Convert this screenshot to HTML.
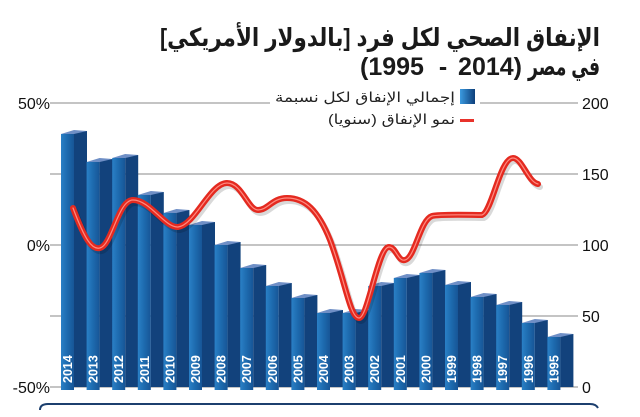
<!DOCTYPE html>
<html><head><meta charset="utf-8"><style>
html,body{margin:0;padding:0;background:#fff;width:640px;height:417px;overflow:hidden}
svg{display:block}
</style></head><body>
<svg width="640" height="417" viewBox="0 0 640 417" xmlns="http://www.w3.org/2000/svg" xmlns:xlink="http://www.w3.org/1999/xlink" font-family="'Liberation Sans','DejaVu Sans',sans-serif">
<defs>
<linearGradient id="fr" x1="0" x2="1" y1="0" y2="0"><stop offset="0" stop-color="#2a80c6"/><stop offset="0.5" stop-color="#1d6aae"/><stop offset="1" stop-color="#175596"/></linearGradient>
<linearGradient id="lg" x1="0" x2="1"><stop offset="0" stop-color="#3b9ae0"/><stop offset="1" stop-color="#0d3f7a"/></linearGradient>
<polygon id="tp" points="0,0 13,0 26,-3 13,-4" fill="#6f8fc6"/>
</defs>
<text x="600" y="46" text-anchor="end" font-size="25" font-weight="bold" fill="#1a1a1a" textLength="440" lengthAdjust="spacingAndGlyphs">الإنفاق  الصحي لكل فرد [بالدولار الأمريكي]</text>
<text x="600" y="75" text-anchor="end" font-size="25" font-weight="bold" fill="#1a1a1a" textLength="72" lengthAdjust="spacingAndGlyphs">في مصر</text>
<g font-size="25" font-weight="bold" fill="#1a1a1a">
<text x="360" y="75">(1995</text>
<text x="443" y="75" text-anchor="middle">-</text>
<text x="522" y="75" text-anchor="end">2014)</text>
</g>
<g stroke="#888" stroke-width="1">
<line x1="50" y1="103" x2="578" y2="103"/><line x1="50" y1="174" x2="578" y2="174"/><line x1="50" y1="245" x2="578" y2="245"/><line x1="50" y1="316" x2="578" y2="316"/><line x1="50" y1="387" x2="578" y2="387"/>
</g>
<rect x="270" y="95" width="210" height="32" fill="#fff"/>
<rect x="460" y="89" width="15" height="15" fill="url(#lg)"/>
<text x="455" y="102" text-anchor="end" font-size="14" fill="#222" textLength="180" lengthAdjust="spacingAndGlyphs">إجمالي الإنفاق لكل نسبمة</text>
<rect x="460" y="119" width="14" height="3" fill="#e8322b"/>
<text x="455" y="124" text-anchor="end" font-size="14" fill="#222" textLength="127" lengthAdjust="spacingAndGlyphs">نمو الإنفاق (سنويا)</text>
<g font-size="16" fill="#111">
<text x="50" y="109" text-anchor="end">50%</text><text x="50" y="251" text-anchor="end">0%</text><text x="50" y="393" text-anchor="end">-50%</text>
<text x="582" y="109">200</text><text x="582" y="180">150</text><text x="582" y="251">100</text><text x="582" y="322">50</text><text x="582" y="393">0</text>
</g>
<g>
<g transform="translate(61,134)"><rect width="13" height="256" fill="url(#fr)"/><rect x="13" y="-3" width="13" height="256" fill="#12427c"/><use xlink:href="#tp"/></g>
<g transform="translate(86.6,162)"><rect width="13" height="228" fill="url(#fr)"/><rect x="13" y="-3" width="13" height="228" fill="#12427c"/><use xlink:href="#tp"/></g>
<g transform="translate(112.2,158)"><rect width="13" height="232" fill="url(#fr)"/><rect x="13" y="-3" width="13" height="232" fill="#12427c"/><use xlink:href="#tp"/></g>
<g transform="translate(137.8,195)"><rect width="13" height="195" fill="url(#fr)"/><rect x="13" y="-3" width="13" height="195" fill="#12427c"/><use xlink:href="#tp"/></g>
<g transform="translate(163.4,213)"><rect width="13" height="177" fill="url(#fr)"/><rect x="13" y="-3" width="13" height="177" fill="#12427c"/><use xlink:href="#tp"/></g>
<g transform="translate(189,225)"><rect width="13" height="165" fill="url(#fr)"/><rect x="13" y="-3" width="13" height="165" fill="#12427c"/><use xlink:href="#tp"/></g>
<g transform="translate(214.6,245)"><rect width="13" height="145" fill="url(#fr)"/><rect x="13" y="-3" width="13" height="145" fill="#12427c"/><use xlink:href="#tp"/></g>
<g transform="translate(240.2,268)"><rect width="13" height="122" fill="url(#fr)"/><rect x="13" y="-3" width="13" height="122" fill="#12427c"/><use xlink:href="#tp"/></g>
<g transform="translate(265.8,286)"><rect width="13" height="104" fill="url(#fr)"/><rect x="13" y="-3" width="13" height="104" fill="#12427c"/><use xlink:href="#tp"/></g>
<g transform="translate(291.4,298)"><rect width="13" height="92" fill="url(#fr)"/><rect x="13" y="-3" width="13" height="92" fill="#12427c"/><use xlink:href="#tp"/></g>
<g transform="translate(317,313)"><rect width="13" height="77" fill="url(#fr)"/><rect x="13" y="-3" width="13" height="77" fill="#12427c"/><use xlink:href="#tp"/></g>
<g transform="translate(342.6,313)"><rect width="13" height="77" fill="url(#fr)"/><rect x="13" y="-3" width="13" height="77" fill="#12427c"/><use xlink:href="#tp"/></g>
<g transform="translate(368.2,286)"><rect width="13" height="104" fill="url(#fr)"/><rect x="13" y="-3" width="13" height="104" fill="#12427c"/><use xlink:href="#tp"/></g>
<g transform="translate(393.8,278)"><rect width="13" height="112" fill="url(#fr)"/><rect x="13" y="-3" width="13" height="112" fill="#12427c"/><use xlink:href="#tp"/></g>
<g transform="translate(419.4,273)"><rect width="13" height="117" fill="url(#fr)"/><rect x="13" y="-3" width="13" height="117" fill="#12427c"/><use xlink:href="#tp"/></g>
<g transform="translate(445,285)"><rect width="13" height="105" fill="url(#fr)"/><rect x="13" y="-3" width="13" height="105" fill="#12427c"/><use xlink:href="#tp"/></g>
<g transform="translate(470.6,297)"><rect width="13" height="93" fill="url(#fr)"/><rect x="13" y="-3" width="13" height="93" fill="#12427c"/><use xlink:href="#tp"/></g>
<g transform="translate(496.2,305)"><rect width="13" height="85" fill="url(#fr)"/><rect x="13" y="-3" width="13" height="85" fill="#12427c"/><use xlink:href="#tp"/></g>
<g transform="translate(521.8,323)"><rect width="13" height="67" fill="url(#fr)"/><rect x="13" y="-3" width="13" height="67" fill="#12427c"/><use xlink:href="#tp"/></g>
<g transform="translate(547.4,337)"><rect width="13" height="53" fill="url(#fr)"/><rect x="13" y="-3" width="13" height="53" fill="#12427c"/><use xlink:href="#tp"/></g>
</g>
<g font-size="12.5" font-weight="bold" fill="#fff">
<text transform="translate(72,383) rotate(-90)">2014</text>
<text transform="translate(97.6,383) rotate(-90)">2013</text>
<text transform="translate(123.2,383) rotate(-90)">2012</text>
<text transform="translate(148.8,383) rotate(-90)">2011</text>
<text transform="translate(174.4,383) rotate(-90)">2010</text>
<text transform="translate(200,383) rotate(-90)">2009</text>
<text transform="translate(225.6,383) rotate(-90)">2008</text>
<text transform="translate(251.2,383) rotate(-90)">2007</text>
<text transform="translate(276.8,383) rotate(-90)">2006</text>
<text transform="translate(302.4,383) rotate(-90)">2005</text>
<text transform="translate(328,383) rotate(-90)">2004</text>
<text transform="translate(353.6,383) rotate(-90)">2003</text>
<text transform="translate(379.2,383) rotate(-90)">2002</text>
<text transform="translate(404.8,383) rotate(-90)">2001</text>
<text transform="translate(430.4,383) rotate(-90)">2000</text>
<text transform="translate(456,383) rotate(-90)">1999</text>
<text transform="translate(481.6,383) rotate(-90)">1998</text>
<text transform="translate(507.2,383) rotate(-90)">1997</text>
<text transform="translate(532.8,383) rotate(-90)">1996</text>
<text transform="translate(558.4,383) rotate(-90)">1995</text>
</g>
<g fill="none" stroke-linecap="round">
<path transform="translate(2,3)" stroke="#000" stroke-opacity="0.15" stroke-width="6" d="M73 208 C85 240 92 250 100 248 C112 245 118 200 133 200 C150 200 165 228 178 227 C195 225 210 183 227 183 C242 183 248 210 258 210 C268 210 272 198 287 198 C305 198 318 210 330 240 C345 280 350 318 359 318 C368 318 378 247 389 247 C396 247 398 262 405 260 C415 258 420 220 432 216 C440 214 470 215 482 215 C492 212 500 158 513 158 C522 158 528 182 538 184"/>
<path stroke="#e42a20" stroke-width="6" d="M73 208 C85 240 92 250 100 248 C112 245 118 200 133 200 C150 200 165 228 178 227 C195 225 210 183 227 183 C242 183 248 210 258 210 C268 210 272 198 287 198 C305 198 318 210 330 240 C345 280 350 318 359 318 C368 318 378 247 389 247 C396 247 398 262 405 260 C415 258 420 220 432 216 C440 214 470 215 482 215 C492 212 500 158 513 158 C522 158 528 182 538 184"/>
<path stroke="#ff8a80" stroke-width="1.2" d="M73 208 C85 240 92 250 100 248 C112 245 118 200 133 200 C150 200 165 228 178 227 C195 225 210 183 227 183 C242 183 248 210 258 210 C268 210 272 198 287 198 C305 198 318 210 330 240 C345 280 350 318 359 318 C368 318 378 247 389 247 C396 247 398 262 405 260 C415 258 420 220 432 216 C440 214 470 215 482 215 C492 212 500 158 513 158 C522 158 528 182 538 184"/>
</g>
<path d="M40 410 Q40 404 48 404 L590 404 Q596 404 598 408" fill="none" stroke="#1c3f6e" stroke-width="2"/>
</svg>
</body></html>
